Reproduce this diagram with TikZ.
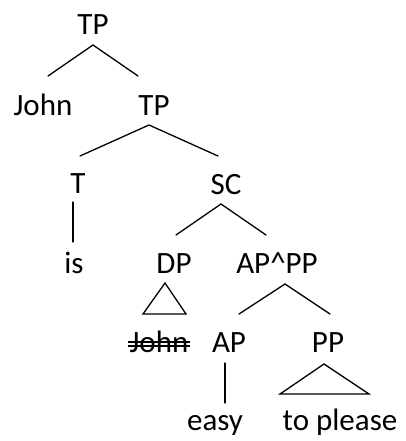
\documentclass[tikz,border=0pt]{standalone}
\usepackage{fontspec}
\setmainfont{Carlito}
\usetikzlibrary{positioning}

\begin{document}
\begin{tikzpicture}[
        x=1pt, y=-1pt,
        every node/.style={font=\fontsize{31}{31}\selectfont, inner sep=0pt, anchor=base},
        branch/.style={line width=1.3pt, line cap=round}]
        \useasboundingbox (0,0) rectangle (405,441);
        
        % labels, placed on their baselines
        \node (TPa) at (93,35) {TP};
        \node (John) at (43,115) {John};
        \node (TPb) at (154,115) {TP};
        \node (T) at (78,193) {T};
        \node (SC) at (226,194) {SC};
        \node (is) at (74,273) {is};
        \node (DP) at (174,273) {DP};
        \node (APPP) at (277,273) {AP\textasciicircum PP};
        \node (Johnb) at (159,352) {John};
        \node (AP) at (229,352) {AP};
        \node (PP) at (328,352) {PP};
        \node (easy) at (215,430) {easy};
        \node (please) at (340,430) {to please};
        
        % branch ends
        \coordinate (TPa-top) at (93,45);
        \coordinate (John-end) at (48,76);
        \coordinate (TPb-end) at (138,76);
        \coordinate (TPb-top) at (149,125);
        \coordinate (T-end) at (80,156);
        \coordinate (SC-end) at (218,156);
        \coordinate (T-low) at (73,202);
        \coordinate (is-end) at (73,242);
        \coordinate (SC-top) at (221,204);
        \coordinate (DP-end) at (176,235);
        \coordinate (APPP-end) at (266,235);
        \coordinate (DP-top) at (165,283);
        \coordinate (APPP-top) at (285,284);
        \coordinate (AP-end) at (239,314);
        \coordinate (PP-end) at (330,314);
        \coordinate (AP-low) at (225,363);
        \coordinate (easy-end) at (225,403);
        \coordinate (PP-top) at (324,364);
        
        \draw[branch] (John-end) -- (TPa-top) -- (TPb-end);
        \draw[branch] (T-end) -- (TPb-top) -- (SC-end);
        \draw[branch] (T-low) -- (is-end);
        \draw[branch] (DP-end) -- (SC-top) -- (APPP-end);
        \draw[branch] (AP-end) -- (APPP-top) -- (PP-end);
        \draw[branch] (AP-low) -- (easy-end);
        
        % triangles
        \draw[branch, line join=miter] (DP-top) -- ++(-22,31) -- ++(43,0) -- cycle;
        \draw[branch, line join=miter] (PP-top) -- ++(-44,30) -- ++(89,0) -- cycle;
        
        % struck-out copy
        \draw[line width=1.3pt] ([xshift=-1pt,yshift=10pt]Johnb.base west) -- ([xshift=1pt,yshift=10pt]Johnb.base east);
        \draw[line width=1.3pt] ([xshift=-1pt,yshift=6pt]Johnb.base west) -- ([xshift=1pt,yshift=6pt]Johnb.base east);
        
    \end{tikzpicture}
\end{document}
